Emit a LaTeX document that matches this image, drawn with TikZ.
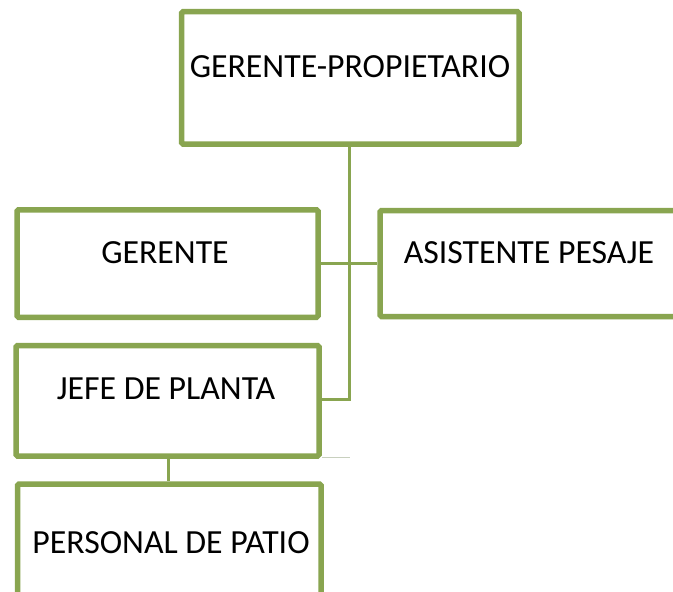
\documentclass[tikz,border=0pt]{standalone}
\usepackage{fontspec}
\setmainfont{Carlito}
\usetikzlibrary{shadows}
\definecolor{boxgreen}{RGB}{137,165,80}
\definecolor{faintline}{RGB}{200,208,190}
\begin{document}
\begin{tikzpicture}[x=1pt,y=-1pt,
  box/.style={draw=boxgreen, line width=5.5pt, fill=white, rounded corners=1.5pt,
    drop shadow={opacity=0.22, shadow xshift=1pt, shadow yshift=-2.5pt}},
  lbl/.style={anchor=base, font=\fontsize{33.8}{40}\selectfont, text=black, inner sep=0pt},
  conn/.style={draw=boxgreen, line width=3pt}]
\useasboundingbox (0,0) rectangle (673,592);
\node[box, minimum width=337.5pt, minimum height=132.3pt] (gp) at (350.25,77.85) {};
\node[box, minimum width=301pt, minimum height=107.5pt] (ger) at (167.5,263.5) {};
\node[box, minimum width=310pt, minimum height=106pt] (asis) at (535,263.5) {};
\node[box, minimum width=303pt, minimum height=110.5pt] (jefe) at (167.5,400.75) {};
\node[box, minimum width=303.5pt, minimum height=116pt] (per) at (169.25,542) {};
\node[lbl] (gpt) at (350,77) {GERENTE-PROPIETARIO};
\node[lbl] (gert) at (165,263) {GERENTE};
\node[lbl] (asist) at (529,263.3) {ASISTENTE PESAJE};
\node[lbl] (jefet) at (166,399.3) {JEFE DE PLANTA};
\node[lbl] (pert) at (171,553.3) {PERSONAL DE PATIO};
\coordinate (trunk) at (349.5,399);
\coordinate (jp) at (168.5,0);
\coordinate (g1) at (322,457.5);
\coordinate (g2) at (350,457.5);
\draw[conn] (gp.south -| trunk) -- (trunk) -- (trunk -| jefe.east);
\draw[conn] (ger.east) -- (asis.west);
\draw[conn] (jefe.south -| jp) -- (per.north -| jp);
\draw[faintline, line width=1.5pt] (g1) -- (g2);
\end{tikzpicture}
\end{document}
